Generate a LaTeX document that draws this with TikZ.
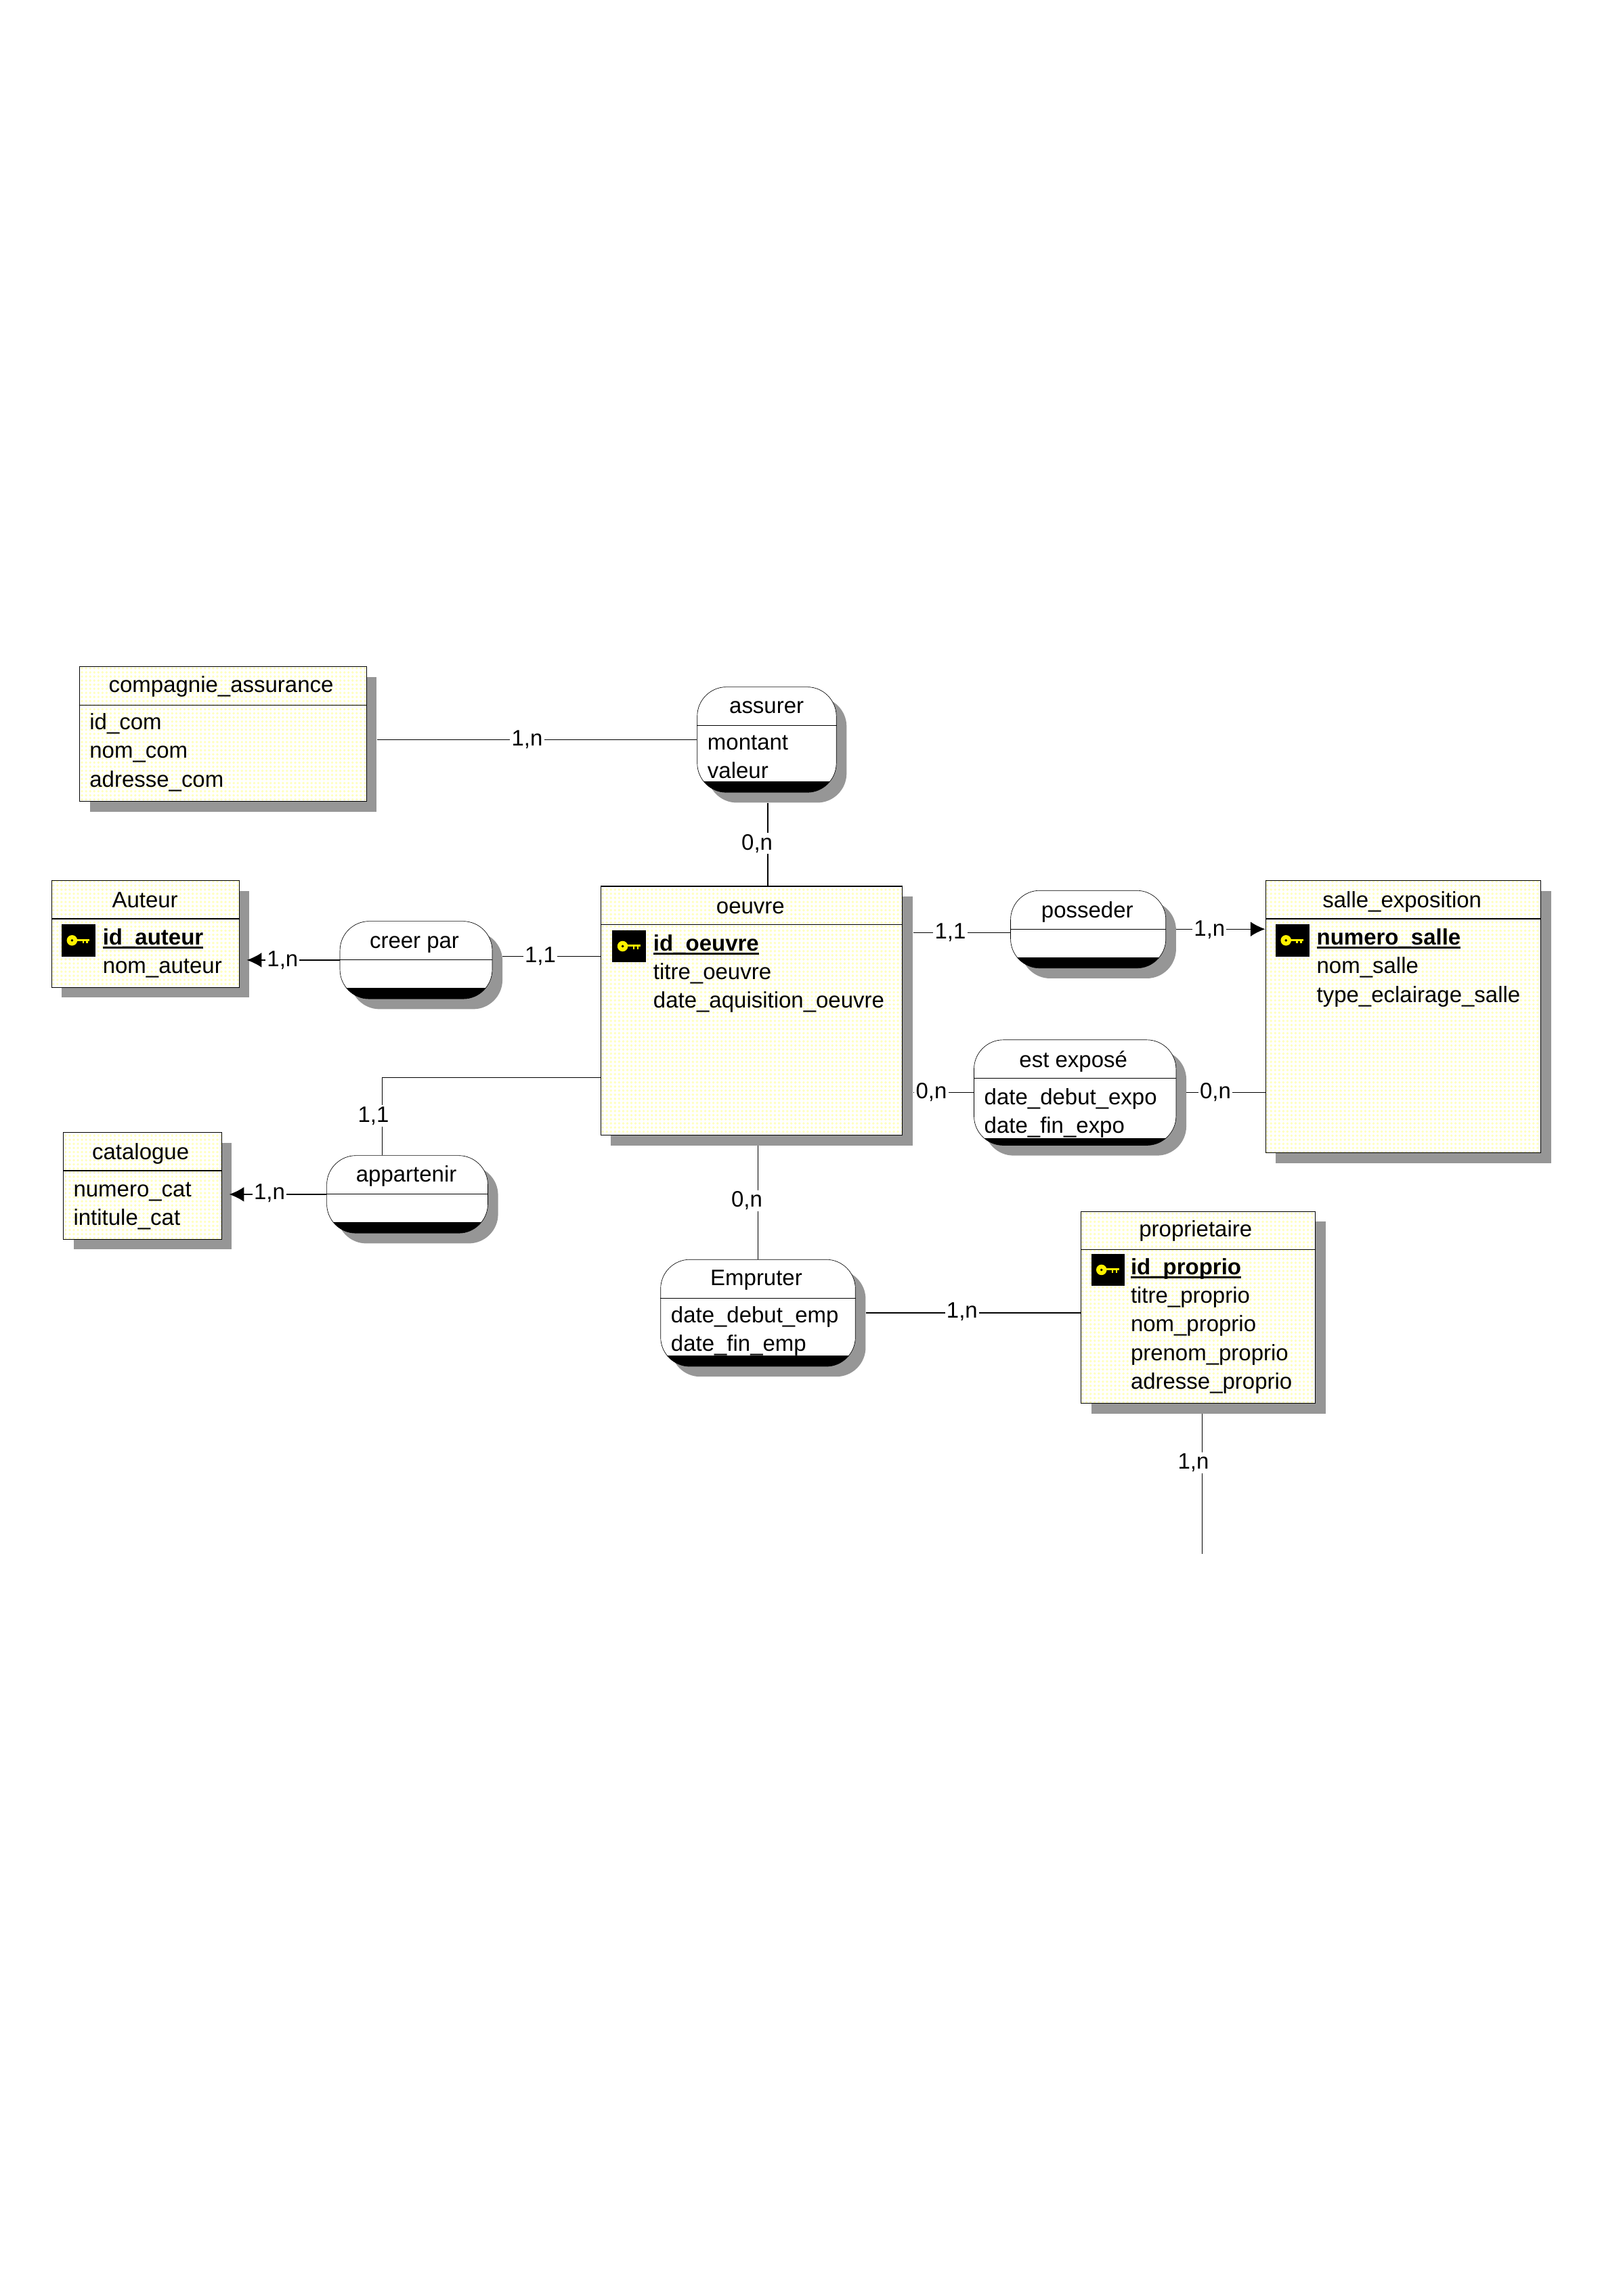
\documentclass[tikz,border=0pt]{standalone}
\usepackage{fontspec}
\setmainfont{Liberation Sans}
\usepackage{xcolor}
\usepackage{tikz}
\usetikzlibrary{shapes.geometric, positioning, shadows, arrows.meta, patterns.meta}
\tikzset{>={Latex[length=10pt,width=10pt]}}
\definecolor{paleyellow}{HTML}{FFFFBE}
\definecolor{shadowgray}{HTML}{969696}
\newcommand{\keyattr}[1]{\setbox0\hbox{\textbf{#1}}\rlap{\rule[-2.6pt]{\wd0}{1.3pt}}\box0}
\tikzset{band/.store in=\bandheight, band=7.5pt}

\begin{document}
\begin{tikzpicture}[x=1pt,y=-1pt,font=\fontsize{15.25}{19.6}\selectfont]
    % Define node styles
    \tikzstyle{plate} = [drop shadow={shadow xshift=7pt, shadow yshift=-7pt, fill=shadowgray, opacity=1}]
    \tikzstyle{entity} = [rectangle, draw, plate, preaction={fill=white}, pattern={Dots[distance=2.8pt, radius=0.9pt]}, pattern color=paleyellow,
        anchor=north west, inner sep=0pt, line width=0.6pt]
    \tikzstyle{relation} = [rectangle, rounded corners=20pt, draw, plate, fill=white, anchor=north west, inner sep=0pt, line width=0.3pt,
        path picture={\fill[black, sharp corners] ([yshift=\bandheight]path picture bounding box.south west) rectangle (path picture bounding box.south east);}]
    \tikzstyle{title} = [yshift=-1pt]
    \tikzstyle{attrs} = [anchor=north west, align=left, inner sep=0pt]
    \tikzstyle{card} = [fill=white, inner sep=1pt, yshift=-1pt]
    \tikzstyle{keybox} = [rectangle, fill=black, minimum width=23pt, minimum height=22pt, anchor=north west, inner sep=0pt]
    \tikzstyle{link} = [line width=0.6pt]
    \tikzset{keyglyph/.pic={
        \fill[yellow] (-4.5,0) circle (3.6);
        \fill[black] (-4.5,0) circle (0.9);
        \fill[yellow] (-2,-1) rectangle (7.5,0.4);
        \fill[yellow] (2.5,0.4) rectangle (3.7,2);
        \fill[yellow] (5.2,0.4) rectangle (6.4,2);
    }}

    \useasboundingbox (0,0) rectangle (1108.37,1568);

    % Entities
    \node[entity, minimum width=196pt, minimum height=92pt] (compagnie) at (54,455) {};
    \node[entity, minimum width=128pt, minimum height=73pt] (auteur) at (35,601) {};
    \node[entity, minimum width=206pt, minimum height=170pt] (oeuvre) at (410,605) {};
    \node[entity, minimum width=188pt, minimum height=186pt] (salle) at (864,601) {};
    \node[entity, minimum width=108pt, minimum height=73pt] (catalogue) at (43,773) {};
    \node[entity, minimum width=160pt, minimum height=131pt] (proprietaire) at (738,827) {};

    % Relations
    \node[relation, minimum width=95pt, minimum height=72pt] (assurer) at (476,469) {};
    \node[relation, minimum width=104pt, minimum height=53pt] (creer) at (232,629) {};
    \node[relation, minimum width=106pt, minimum height=53pt] (posseder) at (690,608) {};
    \node[relation, band=5pt, minimum width=138pt, minimum height=72pt] (expose) at (665,710) {};
    \node[relation, minimum width=110pt, minimum height=53pt] (appartenir) at (223,789) {};
    \node[relation, minimum width=133pt, minimum height=73pt] (emprunter) at (451,860) {};

    % Header rules
    \foreach \n in {compagnie,auteur,oeuvre,salle,catalogue,proprietaire,assurer,creer,posseder,expose,appartenir,emprunter}
        \draw[link] ([shift={(0,26.5)}]\n.north west) -- ([shift={(0,26.5)}]\n.north east);

    % Titles
    \node[title] (tCompagnie) at (151,468) {compagnie\_assurance};
    \node[title] (tAuteur) at (99,613.5) {Auteur};
    \node[title] (tOeuvre) at (512.5,619) {oeuvre};
    \node[title] (tSalle) at (957.5,615) {salle\_exposition};
    \node[title] (tCatalogue) at (96,787) {catalogue};
    \node[title] (tProprietaire) at (816.5,839.5) {proprietaire};
    \node[title] (tAssurer) at (523.5,482) {assurer};
    \node[title] (tCreer) at (283,644) {creer par};
    \node[title] (tPosseder) at (742.5,622) {posseder};
    \node[title] (tExpose) at (733,724) {est exposé};
    \node[title] (tAppartenir) at (277.5,802) {appartenir};
    \node[title] (tEmprunter) at (516.5,873) {Empruter};

    % Attributes
    \node[attrs] (aCompagnie) at (61,487) {id\_com\\nom\_com\\adresse\_com};
    \node[attrs] (aAuteur) at (70,634) {\keyattr{id\_auteur}\\nom\_auteur};
    \node[attrs] (aOeuvre) at (446,638) {\keyattr{id\_oeuvre}\\titre\_oeuvre\\date\_aquisition\_oeuvre};
    \node[attrs] (aSalle) at (899,634) {\keyattr{numero\_salle}\\nom\_salle\\type\_eclairage\_salle};
    \node[attrs] (aCatalogue) at (50,807) {numero\_cat\\intitule\_cat};
    \node[attrs] (aProprietaire) at (772,859) {\keyattr{id\_proprio}\\titre\_proprio\\nom\_proprio\\prenom\_proprio\\adresse\_proprio};
    \node[attrs] (aAssurer) at (483,502) {montant\\valeur};
    \node[attrs] (aExpose) at (672,743) {date\_debut\_expo\\date\_fin\_expo};
    \node[attrs] (aEmprunter) at (458,892) {date\_debut\_emp\\date\_fin\_emp};

    % Key icons
    \node[keybox] (kAuteur) at (42,631) {};
    \node[keybox] (kOeuvre) at (418,635) {};
    \node[keybox] (kSalle) at (871,631) {};
    \node[keybox] (kProprietaire) at (745,856) {};
    \foreach \k in {kAuteur,kOeuvre,kSalle,kProprietaire}
        \pic at (\k) {keyglyph};

    % Connectors
    \coordinate (free) at (821,1061);
    \draw[link] ([xshift=7pt]compagnie.east |- assurer.west) -- (assurer.west);
    \draw[link] ([xshift=11pt]oeuvre.north) -- ([xshift=11pt,yshift=-7pt]oeuvre.north |- assurer.south);
    \draw[link,->] (creer.west) -- ([xshift=5pt]auteur.east |- creer.west);
    \draw[link] (oeuvre.west |- 0,653) -- ([xshift=7pt]creer.east |- 0,653);
    \draw[link] (oeuvre.west |- 0,736) -| (appartenir.north -| 261,0);
    \draw[link,->] (appartenir.west) -- ([xshift=5pt]catalogue.east |- appartenir.west);
    \draw[link] ([xshift=7pt]oeuvre.east |- 0,637) -- (posseder.west |- 0,637);
    \draw[link,->] ([xshift=7pt]posseder.east |- 0,634.5) -- (salle.west |- 0,634.5);
    \draw[link] ([xshift=7pt]oeuvre.east |- 0,746) -- (expose.west |- 0,746);
    \draw[link] ([xshift=7pt]expose.east |- 0,746) -- (salle.west |- 0,746);
    \draw[link] (emprunter.north) -- ([yshift=-7pt]emprunter.north |- oeuvre.south);
    \draw[link] ([xshift=7pt]emprunter.east) -- (proprietaire.west |- emprunter.east);
    \draw[link] ([yshift=-7pt]proprietaire.south -| free) -- (free);

    % Cardinalities
    \node[card] (c1) at (360,504) {1,n};
    \node[card] (c2) at (517,575) {0,n};
    \node[card] (c3) at (193,655) {1,n};
    \node[card] (c4) at (369,652) {1,1};
    \node[card] (c5) at (255,761) {1,1};
    \node[card] (c6) at (184,814) {1,n};
    \node[card] (c7) at (649,636) {1,1};
    \node[card] (c8) at (826,634) {1,n};
    \node[card] (c9) at (636,745) {0,n};
    \node[card] (c10) at (830,745) {0,n};
    \node[card] (c11) at (510,819) {0,n};
    \node[card] (c12) at (657,895) {1,n};
    \node[card] (c13) at (815,998) {1,n};
\end{tikzpicture}
\end{document}
